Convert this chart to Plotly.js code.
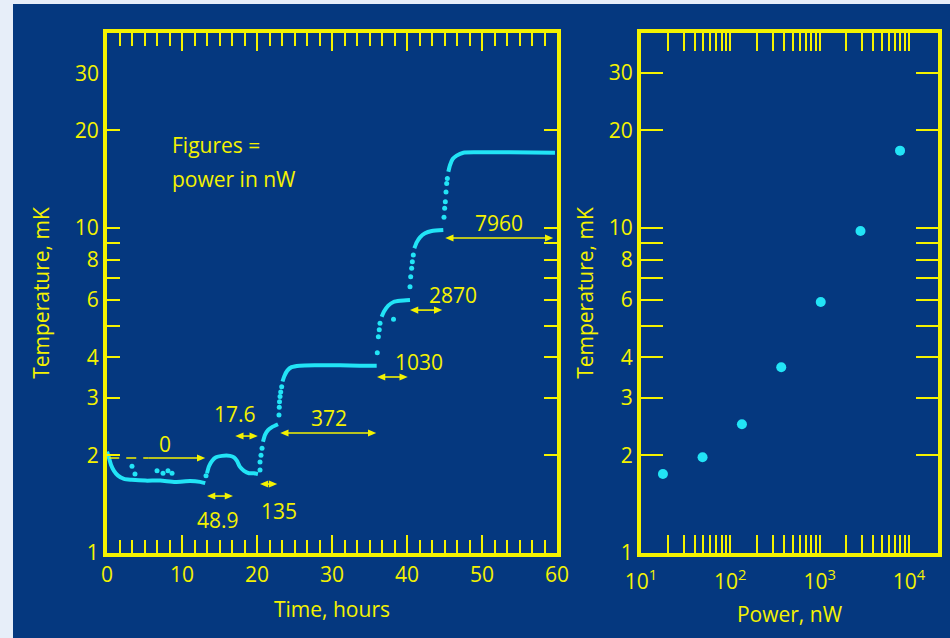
<!DOCTYPE html>
<html><head><meta charset="utf-8">
<script src="https://cdn.plot.ly/plotly-3.0.1.min.js"></script>
<style>
html,body{margin:0;padding:0;background:#e7eef9;width:950px;height:638px;overflow:hidden}
#chart{position:absolute;left:13px;top:4px;width:937px;height:634px}
</style></head><body><div id="chart"></div>
<script>
// ---- data: temperature vs time (left panel) ----
// continuous parts of the record (null = break between steps)
const curveTime = [0,0.27,0.53,0.93,1.47,2.27,3.3,5.1,7.1,9.1,11.1,12.4,13.1, null,
  13.33,13.6,14.0,14.53,15.33,16.4,16.93,17.33,17.73,18.27,18.93,19.6,20.13, null,
  20.8,21.07,21.47,22.0,22.8, null,
  23.4,23.64,24.04,24.6,25.7,27.96,31.07,33.7,35.96, null,
  36.62,36.93,37.5,38.2,39.07,40.4, null,
  40.98,41.29,41.73,42.4,43.29,44.84, null,
  45.51,45.73,46.09,46.62,47.51,49.29,53.7,59.73];
const curveTemp = [2.05,1.96,1.87,1.79,1.73,1.69,1.68,1.67,1.67,1.655,1.665,1.655,1.64, null,
  1.76,1.85,1.92,1.97,1.99,1.99,1.97,1.92,1.84,1.79,1.76,1.76,1.75, null,
  2.20,2.31,2.39,2.44,2.49, null,
  3.37,3.50,3.64,3.73,3.77,3.78,3.78,3.77,3.77, null,
  5.33,5.53,5.77,5.92,5.97,6.0, null,
  8.66,9.03,9.36,9.63,9.79,9.86, null,
  14.9,15.6,16.3,16.7,17.05,17.1,17.1,17.05];
// separate readings during the steps and stray points
const dotTime = [20.4,20.4,20.53,20.67, 22.93,22.97,23.0,23.07,23.16,23.29,
  36.04,36.18,36.3,36.4, 40.4,40.49,40.62,40.71,40.84, 44.93,45.02,45.11,45.2,45.29,45.38,
  3.33,3.73,6.67,7.47,8.13,8.67,13.2,38.2];
const dotTemp = [1.80,1.905,2.00,2.10, 2.66,2.81,2.92,3.03,3.13,3.25,
  4.13,4.63,4.86,5.09, 6.60,7.08,7.52,7.88,8.26, 10.8,11.5,12.05,12.9,13.7,14.2,
  1.85,1.75,1.79,1.76,1.79,1.76,1.73,5.24];

// ---- data: temperature vs power (right panel) ----
const power = [17.6, 48.9, 135, 372, 1030, 2870, 7960];
const plateauTemp = [1.75, 1.97, 2.49, 3.73, 5.92, 9.79, 17.3];

// ---- labels ----
const powerLabels = ['0','48.9','17.6','135','372','1030','2870','7960'];
const leftYTicks = [1,2,3,4,5,6,7,8,9,10,20];
const leftYText  = ['1','2','3','4','','6','','8','','10','20'];
const rightYTicks = [1,2,3,4,5,6,7,8,9,10,20,30];
const rightYText  = ['1','2','3','4','','6','','8','','10','20','30'];
const rightXTicks = [10,20,30,40,50,60,70,80,90,100,200,300,400,500,600,700,800,900,1000,
  2000,3000,4000,5000,6000,7000,8000,9000,10000];
const rightXText = rightXTicks.map(v => ({10:'10<sup>1</sup>',100:'10<sup>2</sup>',1000:'10<sup>3</sup>',10000:'10<sup>4</sup>'}[v] || ''));

const YEL = '#f4f200', CYAN = '#22e4f6', BG = '#05387f';
const FONT = '"Open Sans", Lato, sans-serif';
const FS = 21;
const L = v => Math.log10(v);
const YTOP = 1.6;           // log10 of the top of both temperature axes
const D = v => L(v) / YTOP; // temperature -> fraction of the y domain

const traces = [
  {x: curveTime, y: curveTemp, xaxis:'x', yaxis:'y', type:'scatter', mode:'lines',
   line:{color:CYAN, width:4, shape:'spline', smoothing:0.6}, connectgaps:false, hoverinfo:'skip'},
  {x: dotTime, y: dotTemp, xaxis:'x', yaxis:'y', type:'scatter', mode:'markers',
   marker:{color:CYAN, size:5}, hoverinfo:'skip'},
  {x: power, y: plateauTemp, xaxis:'x2', yaxis:'y2', type:'scatter', mode:'markers',
   marker:{color:CYAN, size:10}, hoverinfo:'skip'}
];

const axCommon = {showgrid:false, zeroline:false, showline:true, linewidth:4, linecolor:YEL,
  mirror:'allticks', ticks:'inside', tickwidth:2, tickcolor:YEL,
  tickfont:{family:FONT, size:FS, color:YEL}};

// arrows drawn as shapes: shaft + filled triangular heads
const HEADL = 1.1;     // head length, hours
const HEADW = 0.0068;  // head half width, fraction of y domain
const shapes = [];
function head(t, T, dir) {
  const y = D(T), b = t - dir * HEADL;
  shapes.push({type:'path', xref:'x', yref:'y domain',
    path:`M ${t},${y} L ${b},${y + HEADW} L ${b},${y - HEADW} Z`,
    fillcolor:YEL, line:{width:0}});
}
function arrow(t0, t1, T, both) {
  shapes.push({type:'line', xref:'x', yref:'y domain', x0:t0 + (both ? 0.5 : 0), x1:t1 - 0.5,
    y0:D(T), y1:D(T), line:{color:YEL, width:1.6}});
  head(t1, T, 1);
  if (both) head(t0, T, -1);
}
function label(txt, t, T) {
  return {xref:'x', yref:'y', x:t, y:L(T), text:txt, showarrow:false,
    font:{family:FONT, size:FS, color:YEL}};
}

shapes.push({type:'line', xref:'x', yref:'y domain', x0:0.3, x1:5.5, y0:D(1.96), y1:D(1.96),
  line:{color:YEL, width:1.6, dash:'10px,7px'}});
arrow(5.5, 13.1, 1.96, false);
arrow(13.33, 16.8, 1.497, true);
arrow(17.1, 20.1, 2.29, true);
arrow(20.4, 22.7, 1.63, true);
arrow(23.1, 35.9, 2.34, true);
arrow(36.0, 40.1, 3.48, true);
arrow(40.4, 44.7, 5.59, true);
arrow(45.1, 59.5, 9.32, true);

const annotations = [
  label(powerLabels[0], 7.73, 2.17),
  label(powerLabels[1], 14.8, 1.263),
  label(powerLabels[2], 17.07, 2.67),
  label(powerLabels[3], 22.9, 1.346),
  label(powerLabels[4], 29.6, 2.61),
  label(powerLabels[5], 41.6, 3.86),
  label(powerLabels[6], 46.13, 6.22),
  label(powerLabels[7], 52.2, 10.36),
  {xref:'x', yref:'y', x:8.4, y:L(18.0), text:'Figures =', showarrow:false, xanchor:'left',
   font:{family:FONT, size:FS, color:YEL}},
  {xref:'x', yref:'y', x:8.4, y:L(14.2), text:'power in nW', showarrow:false, xanchor:'left',
   font:{family:FONT, size:FS, color:YEL}},
  {xref:'paper', yref:'y', x:0, y:L(30), text:'30', showarrow:false, xanchor:'right', xshift:-6,
   font:{family:FONT, size:FS, color:YEL}}
];

const layout = {
  width:937, height:634, paper_bgcolor:BG, plot_bgcolor:BG, showlegend:false,
  margin:{l:94, r:12, t:29, b:85},
  xaxis: Object.assign({}, axCommon, {domain:[0, 0.54152], range:[0,60], tick0:0, dtick:10, ticklen:18,
    minor:{tick0:0, dtick:10/6, ticks:'inside', ticklen:13, tickwidth:2, tickcolor:YEL},
    title:{text:'Time, hours', font:{family:FONT, size:FS, color:YEL}, standoff:16}}),
  yaxis: Object.assign({}, axCommon, {type:'log', range:[0,YTOP], tickmode:'array',
    tickvals:leftYTicks, ticktext:leftYText, ticklen:13,
    title:{text:'Temperature, mK', font:{family:FONT, size:FS, color:YEL}, standoff:20}}),
  xaxis2: Object.assign({}, axCommon, {anchor:'y2', domain:[0.6426, 1], type:'log', range:[1, 4.326],
    tickmode:'array', tickvals:rightXTicks, ticktext:rightXText, ticklen:18, ticklabelstandoff:7,
    title:{text:'Power, nW', font:{family:FONT, size:FS, color:YEL}, standoff:14}}),
  yaxis2: Object.assign({}, axCommon, {anchor:'x2', type:'log', range:[0,YTOP], tickmode:'array',
    tickvals:rightYTicks, ticktext:rightYText, ticklen:22,
    title:{text:'Temperature, mK', font:{family:FONT, size:FS, color:YEL}, standoff:10}}),
  annotations: annotations,
  shapes: shapes
};

Plotly.newPlot('chart', traces, layout, {staticPlot:true, displayModeBar:false});
</script></body></html>
